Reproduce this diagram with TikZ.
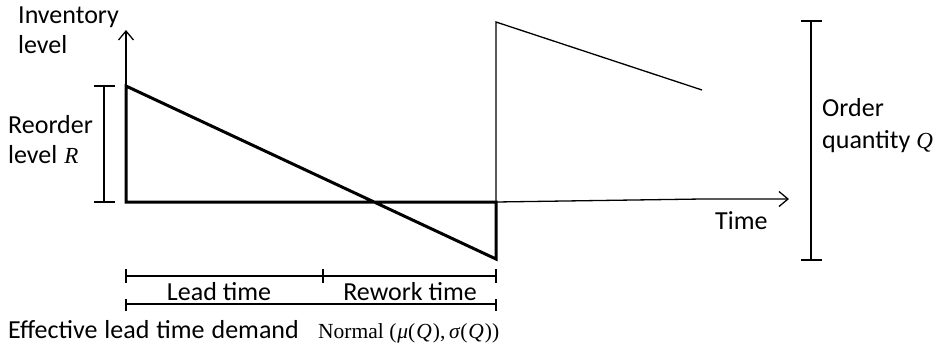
\documentclass[tikz,border=0pt]{standalone}
\usepackage{fontspec}
\setmainfont{Carlito}
\newfontfamily\tms{Liberation Serif}
\usetikzlibrary{arrows.meta}
\begin{document}
\begin{tikzpicture}[x=1pt,y=-1pt,
  thinln/.style={line width=1.3pt},
  thickln/.style={line width=3pt, line join=miter},
  arr/.style={-{Straight Barb[length=9pt,width=15pt,line width=1.3pt]}},
  lbl/.style={anchor=base west, inner sep=0pt, font=\fontsize{26}{31}\selectfont},
  mth/.style={font=\fontsize{23}{27}\selectfont\tms\itshape}]
\useasboundingbox (0,0) rectangle (938,349);
% key points
\coordinate (O) at (126,202);
\coordinate (Ytop) at (126,30);
\coordinate (R) at (126,86);
\coordinate (E) at (496,202);
\coordinate (Low) at (496,259);
\coordinate (Top) at (496,22);
\coordinate (Tend) at (702,90);
\coordinate (Tmid) at (702,199);
\coordinate (Tarrow) at (789,199);
% axes and inventory curve
\draw[thinln, arr] (O) -- (Ytop);
\draw[thickln] (R) -- (O) -- (E) -- (Low) -- cycle;
\draw[thinln] (E) -- (Top) -- (Tend);
\draw[thinln, arr] (E) -- (Tmid) -- (Tarrow);
% reorder bracket
\coordinate (rb1) at (104,86); \coordinate (rb2) at (104,202);
\draw[thinln] (rb1) -- (rb2);
\draw[thinln] ([xshift=-10pt]rb1) -- ([xshift=11pt]rb1);
\draw[thinln] ([xshift=-10pt]rb2) -- ([xshift=11pt]rb2);
% order bracket
\coordinate (ob1) at (811,21); \coordinate (ob2) at (811,260);
\draw[thinln] (ob1) -- (ob2);
\draw[thinln] ([xshift=-10pt]ob1) -- ([xshift=11pt]ob1);
\draw[thinln] ([xshift=-10pt]ob2) -- ([xshift=11pt]ob2);
% time brackets
\coordinate (ua) at (126,276); \coordinate (um) at (323,276); \coordinate (ub) at (496,276);
\draw[thinln] (ua) -- (ub);
\foreach \p in {ua,um,ub} \draw[thinln] ([yshift=-7pt]\p) -- ([yshift=7pt]\p);
\coordinate (la) at (126,304); \coordinate (lb) at (496,304);
\draw[thinln] (la) -- (lb);
\foreach \p in {la,lb} \draw[thinln] ([yshift=-7pt]\p) -- ([yshift=5pt]\p);
% labels
\node[lbl] (inv1) at (18,23) {Inventory};
\node[lbl] (inv2) at (18,53) {level};
\node[lbl] (re1) at (8,133) {Reorder};
\node[lbl] (re2) at (8,163) {level\hspace{7pt}{\fontsize{23}{27}\selectfont\tms\itshape R}};
\node[lbl] (or1) at (822,116) {Order};
\node[lbl] (or2) at (822,148) {quantity\hspace{6pt}{\fontsize{23}{27}\selectfont\tms\itshape Q}};
\node[lbl] (time) at (715,229) {Time};
\node[lbl, anchor=base] (lead) at (219,300) {Lead time};
\node[lbl, anchor=base] (rework) at (410,300) {Rework time};
\node[lbl] (eff) at (8,338) {Effective\hspace{7pt}lead\hspace{7pt}time\hspace{7pt}demand};
\node[anchor=base west, inner sep=0pt, font=\fontsize{21.5}{25}\selectfont\tms] (norm) at (318,338)
  {Normal (\kern1pt\textit{μ\/}(\kern1pt\textit{Q\/}\kern1pt),\,\textit{σ\/}(\kern1pt\textit{Q\/}\kern1pt))};
\end{tikzpicture}
\end{document}
